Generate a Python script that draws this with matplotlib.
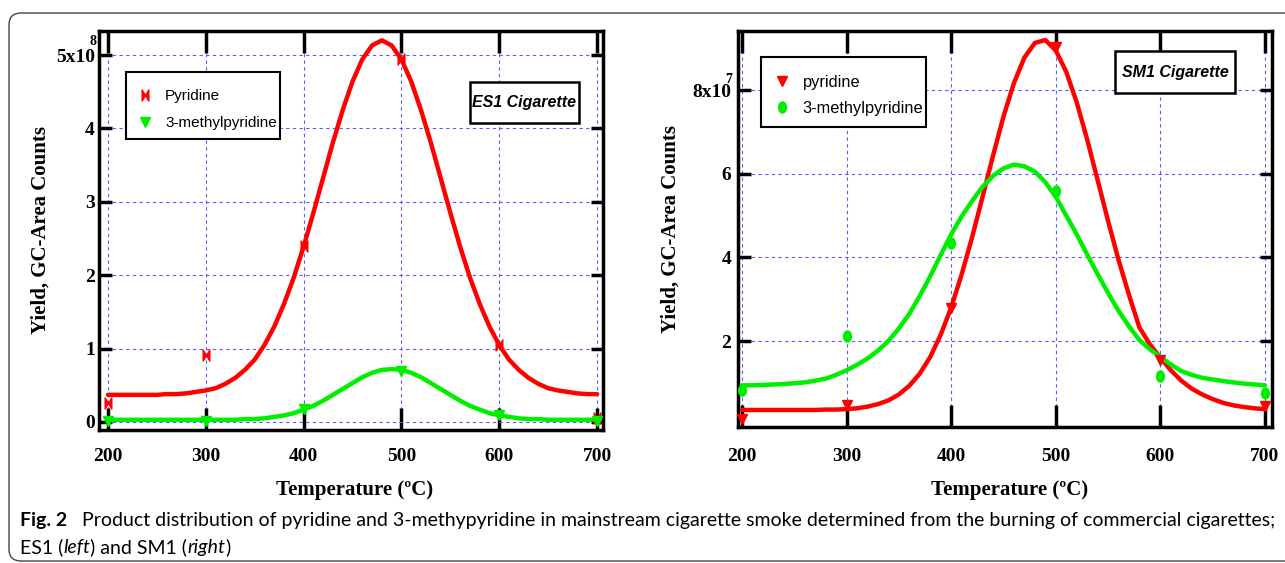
import matplotlib
matplotlib.use("Agg")
import matplotlib.pyplot as plt
from matplotlib.path import Path
from matplotlib.patches import FancyBboxPatch, Rectangle
from matplotlib.transforms import IdentityTransform, Affine2D

# measured temperatures (deg C)
temps = [200, 300, 400, 500, 600, 700]

# ES1 cigarette, yield in units of 1e8 counts
es1_pyridine = [0.26, 0.91, 2.40, 4.95, 1.05, 0.06]
es1_methyl = [0.02, 0.02, 0.18, 0.69, 0.10, 0.02]

# SM1 cigarette, yield in units of 1e7 counts
sm1_pyridine = [0.13, 0.46, 2.80, 9.04, 1.55, 0.44]
sm1_methyl = [0.82, 2.12, 4.34, 5.58, 1.16, 0.76]

# fitted curves, every 10 deg C (200..700)
fit_temps = list(range(200, 701, 10))
es1_pyridine_fit = [0.37, 0.37, 0.37, 0.37, 0.37, 0.37, 0.38, 0.38, 0.39, 0.41,
                    0.43, 0.46, 0.52, 0.60, 0.71, 0.85, 1.05, 1.30, 1.61, 1.97,
                    2.39, 2.85, 3.33, 3.81, 4.25, 4.64, 4.94, 5.13, 5.20, 5.13,
                    4.94, 4.64, 4.25, 3.81, 3.33, 2.85, 2.39, 1.97, 1.61, 1.30,
                    1.05, 0.85, 0.71, 0.60, 0.52, 0.46, 0.43, 0.41, 0.39, 0.38, 0.38]
es1_methyl_fit = [0.03, 0.03, 0.03, 0.03, 0.03, 0.03, 0.03, 0.03, 0.03, 0.03,
                  0.03, 0.03, 0.03, 0.03, 0.04, 0.04, 0.05, 0.07, 0.09, 0.12,
                  0.17, 0.22, 0.29, 0.37, 0.45, 0.53, 0.61, 0.67, 0.71, 0.72,
                  0.71, 0.67, 0.61, 0.53, 0.45, 0.37, 0.29, 0.22, 0.17, 0.12,
                  0.09, 0.07, 0.05, 0.04, 0.04, 0.03, 0.03, 0.03, 0.03, 0.03, 0.03]
sm1_pyridine_fit = [0.35, 0.35, 0.35, 0.35, 0.35, 0.35, 0.35, 0.35, 0.36, 0.36,
                    0.37, 0.39, 0.43, 0.49, 0.58, 0.72, 0.93, 1.22, 1.62, 2.15,
                    2.80, 3.59, 4.48, 5.45, 6.43, 7.37, 8.17, 8.78, 9.13, 9.20,
                    8.95, 8.44, 7.71, 6.82, 5.85, 4.87, 3.94, 3.10, 2.32, 1.92,
                    1.60, 1.30, 1.05, 0.86, 0.72, 0.61, 0.52, 0.46, 0.42, 0.39, 0.37]
sm1_methyl_fit = [0.94, 0.94, 0.95, 0.96, 0.97, 0.99, 1.01, 1.05, 1.10, 1.19,
                  1.30, 1.43, 1.58, 1.77, 2.00, 2.30, 2.65, 3.08, 3.55, 4.06,
                  4.55, 4.98, 5.35, 5.69, 5.95, 6.13, 6.22, 6.18, 6.05, 5.80,
                  5.45, 5.00, 4.55, 4.07, 3.60, 3.15, 2.72, 2.35, 2.02, 1.80,
                  1.62, 1.44, 1.28, 1.19, 1.12, 1.08, 1.04, 1.01, 0.98, 0.96, 0.94]

es1_yticks = [0, 1, 2, 3, 4, 5]
es1_ylabels = ["0", "1", "2", "3", "4", "5x10"]
sm1_yticks = [2, 4, 6, 8]
sm1_ylabels = ["2", "4", "6", "8x10"]

RED = "#ff0000"
GREEN = "#00ee00"
SERIF = "Liberation Serif"
SANS = "Liberation Sans"

W, H = 1285, 563
fig = plt.figure(figsize=(W / 100, H / 100), dpi=100)


def px_box(l, t, r, b):
    return [l / W, 1 - b / H, (r - l) / W, (b - t) / H]


# bowtie marker for pyridine (left panel) and ellipse for 3-methylpyridine (right panel)
bowtie = Path([(-0.6, 1), (-0.6, -1), (0, 0), (-0.6, 1), (0.6, 1), (0.6, -1), (0, 0), (0.6, 1)],
              [Path.MOVETO, Path.LINETO, Path.LINETO, Path.CLOSEPOLY] * 2)
ellipse = Path.unit_circle().transformed(Affine2D().scale(0.7, 1.0))


def style_axes(ax, xlim, ylim, yticks, ylabels, ypad, xpad):
    ax.set_xlim(xlim)
    ax.set_ylim(ylim)
    ax.set_xticks(temps)
    ax.set_yticks(yticks)
    ax.set_yticklabels(ylabels)
    ax.grid(True, color="#5a5aff", lw=0.8, ls=(0, (3, 3)))
    ax.set_axisbelow(True)
    ax.tick_params(axis="x", direction="in", length=16, width=2.5, top=True, pad=xpad, labelsize=14)
    ax.tick_params(axis="y", direction="in", length=9, width=2.5, right=True, pad=ypad, labelsize=14)
    for lab in ax.get_xticklabels() + ax.get_yticklabels():
        lab.set_fontfamily(SERIF)
        lab.set_fontweight("bold")
    for s in ax.spines.values():
        s.set_linewidth(2.5)
    ax.set_xlabel("Temperature (ºC)", fontsize=15, fontweight="bold", fontfamily=SERIF)
    ax.set_ylabel("Yield, GC-Area Counts", fontsize=15, fontweight="bold", fontfamily=SERIF)


def label_box(l, t, r, b, text):
    fig.add_artist(Rectangle((l / W, 1 - b / H), (r - l) / W, (b - t) / H, transform=fig.transFigure,
                             fc="white", ec="black", lw=1.8, zorder=5))
    fig.text((l + r) / 2 / W, 1 - (t + b) / 2 / H, text, ha="center", va="center",
             fontsize=11.5, fontweight="bold", fontstyle="italic", fontfamily=SANS, zorder=6)


def boxed_legend(ax, frame, anchor, size, hpad, spacing):
    # white frame drawn by hand, legend entries placed inside it
    l, t, r, b = frame
    ax.add_patch(Rectangle((l / W, 1 - b / H), (r - l) / W, (b - t) / H, transform=fig.transFigure,
                           fc="white", ec="black", lw=1.5, zorder=4.5, clip_on=False))
    ax.legend(loc="upper left", bbox_to_anchor=(anchor[0] / W, 1 - anchor[1] / H),
              bbox_transform=fig.transFigure, frameon=False, borderpad=0, borderaxespad=0,
              handlelength=0.8, handletextpad=hpad, labelspacing=spacing,
              prop={"family": SANS, "size": size})


def draw_curve(ax, y, color):
    ax.plot(fit_temps, y, color=color, lw=3.2, zorder=3, solid_joinstyle="round",
            solid_capstyle="round")


# ---- left panel: ES1 ----
ax1 = fig.add_axes(px_box(99, 31, 603, 430))
draw_curve(ax1, es1_pyridine_fit, RED)
draw_curve(ax1, es1_methyl_fit, GREEN)
ax1.plot(temps, es1_pyridine, ls="none", marker=bowtie, ms=8, color=RED, clip_on=False,
         zorder=4, label="Pyridine")
ax1.plot(temps, es1_methyl, ls="none", marker="v", ms=7, color=GREEN, clip_on=False,
         zorder=4, label="3-methylpyridine")
style_axes(ax1, (190.8, 706.1), (-0.109, 5.327), es1_yticks, es1_ylabels, 3, 13)
ax1.xaxis.set_label_coords(0.508, -0.125)
ax1.yaxis.set_label_coords(-0.097, 0.5)
ax1.annotate("8", xy=(0, 5), xycoords=("axes fraction", "data"), xytext=(-2, 10),
             textcoords="offset points", ha="right", va="center", fontsize=10,
             fontweight="bold", fontfamily=SERIF)
boxed_legend(ax1, (126, 72, 280, 139), (139, 89), 11, 0.9, 0.86)
label_box(470, 82, 579, 123, "ES1 Cigarette")

# ---- right panel: SM1 ----
ax2 = fig.add_axes(px_box(738, 31, 1272, 427))
draw_curve(ax2, sm1_pyridine_fit, RED)
draw_curve(ax2, sm1_methyl_fit, GREEN)
ax2.plot(temps, sm1_pyridine, ls="none", marker="v", ms=7, color=RED, clip_on=False,
         zorder=4, label="pyridine")
ax2.plot(temps, sm1_methyl, ls="none", marker=ellipse, ms=8, color=GREEN, clip_on=False,
         zorder=4, label="3-methylpyridine")
style_axes(ax2, (196.2, 706.7), (-0.057, 9.416), sm1_yticks, sm1_ylabels, 5, 15)
ax2.xaxis.set_label_coords(0.509, -0.135)
ax2.yaxis.set_label_coords(-0.108, 0.5)
ax2.annotate("7", xy=(0, 8), xycoords=("axes fraction", "data"), xytext=(-4, 8),
             textcoords="offset points", ha="right", va="center", fontsize=10,
             fontweight="bold", fontfamily=SERIF)
boxed_legend(ax2, (761, 57, 926, 127), (775, 75), 11.8, 0.88, 0.68)
label_box(1115, 51, 1235, 93, "SM1 Cigarette")

# ---- outer rounded frame and caption ----
fig.add_artist(FancyBboxPatch((9, H - 561), 1320, 548, boxstyle="round,pad=0,rounding_size=12",
                              transform=IdentityTransform(), fill=False, ec="#444444", lw=1.0))

renderer = fig.canvas.get_renderer()


def chain(x, y, pieces, size):
    for s, kw in pieces:
        t = fig.text(x / W, 1 - y / H, s, fontsize=size, fontfamily="Lato", va="baseline", **kw)
        x += t.get_window_extent(renderer).width


CAP = 14.0
chain(20, 526, [("Fig. 2", {"fontweight": "bold"}),
                ("   Product distribution of pyridine and 3-methypyridine in mainstream cigarette "
                 "smoke determined from the burning of commercial cigarettes;", {})], CAP)
chain(20, 553, [("ES1 (", {}), ("left", {"fontstyle": "italic"}), (") and SM1 (", {}),
                ("right", {"fontstyle": "italic"}), (")", {})], CAP)

fig.savefig("out.png", dpi=100)
